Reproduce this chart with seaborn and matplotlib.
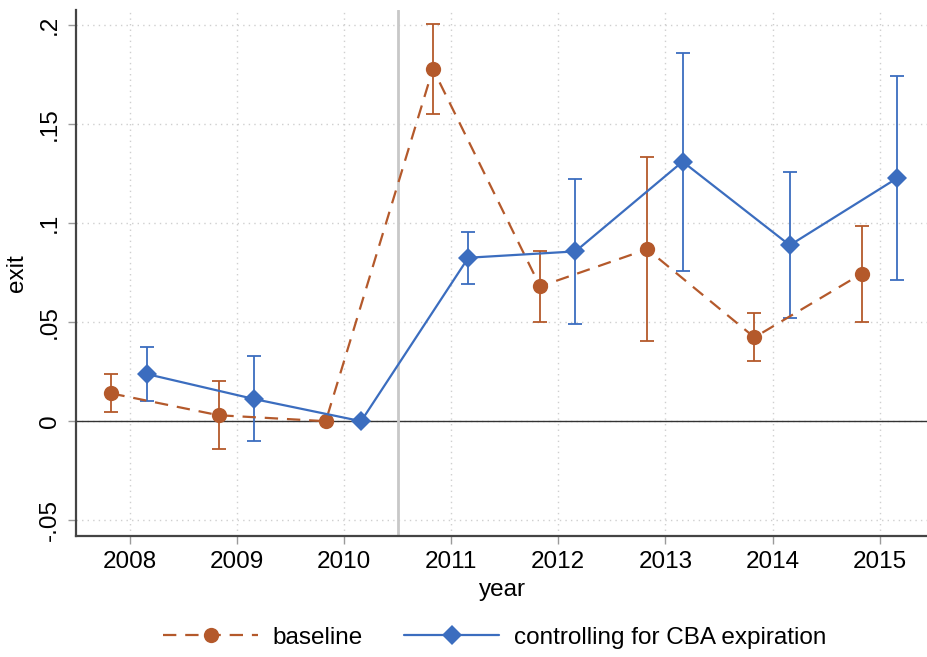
import numpy as np
import pandas as pd
import seaborn as sns
import matplotlib.pyplot as plt
from matplotlib.ticker import FixedLocator, FixedFormatter

# event-study style estimates
years = [2008, 2009, 2010, 2011, 2012, 2013, 2014, 2015]

base_est = [0.0140, 0.0030, 0.0000, 0.1778, 0.0680, 0.0868, 0.0423, 0.0744]
base_lo = [0.0046, -0.0138, np.nan, 0.1548, 0.0502, 0.0405, 0.0306, 0.0499]
base_hi = [0.0240, 0.0203, np.nan, 0.2004, 0.0858, 0.1333, 0.0547, 0.0983]

cba_est = [0.0238, 0.0112, 0.0000, 0.0825, 0.0857, 0.1310, 0.0888, 0.1226]
cba_lo = [0.0100, -0.0100, np.nan, 0.0694, 0.0492, 0.0758, 0.0523, 0.0712]
cba_hi = [0.0376, 0.0328, np.nan, 0.0957, 0.1222, 0.1860, 0.1258, 0.1741]

ytick_vals = [-0.05, 0, 0.05, 0.1, 0.15, 0.2]
ytick_labels = ["-.05", "0", ".05", ".1", ".15", ".2"]

orange = "#b4592b"
blue = "#3b6dbf"

sns.set_style("white")
plt.rcParams['font.family'] = ['Liberation Sans', 'DejaVu Sans']
plt.rcParams['text.color'] = 'black'
plt.rcParams['xtick.labelcolor'] = 'black'
plt.rcParams['ytick.labelcolor'] = 'black'
plt.rcParams['axes.labelcolor'] = 'black'

df = pd.DataFrame({"year": years,
                   "base": base_est, "base_lo": base_lo, "base_hi": base_hi,
                   "cba": cba_est, "cba_lo": cba_lo, "cba_hi": cba_hi})
df["xb"] = df["year"] - 0.17
df["xc"] = df["year"] + 0.16

fig = plt.figure(figsize=(9.28, 6.57), dpi=100)
ax = fig.add_axes([0.082, 0.184, 0.918, 0.801])

# reference lines
ax.axhline(0, color="#333333", lw=1.0, zorder=1)
ax.axvline(2010.5, color="#c8c8c8", lw=2.0, zorder=1)

# confidence intervals
ax.errorbar(df["xb"], df["base"],
            yerr=[df["base"] - df["base_lo"], df["base_hi"] - df["base"]],
            fmt="none", ecolor=orange, elinewidth=1.3, capsize=5, capthick=1.3, zorder=2)
ax.errorbar(df["xc"], df["cba"],
            yerr=[df["cba"] - df["cba_lo"], df["cba_hi"] - df["cba"]],
            fmt="none", ecolor=blue, elinewidth=1.3, capsize=5, capthick=1.3, zorder=2)

# point estimates
sns.lineplot(data=df, x="xb", y="base", ax=ax, color=orange, linestyle=(0, (6, 4)),
             lw=1.6, marker="o", markersize=11, markeredgewidth=0, zorder=3,
             label="baseline")
sns.lineplot(data=df, x="xc", y="cba", ax=ax, color=blue, lw=1.6,
             marker="D", markersize=10.5, markeredgewidth=0, zorder=3,
             label="controlling for CBA expiration")

ax.set_xlim(2007.5, 2015.45)
ax.set_ylim(-0.058, 0.2076)

ax.xaxis.set_major_locator(FixedLocator(years))
ax.set_xticklabels([str(y) for y in years], fontsize=17.5)
ax.yaxis.set_major_locator(FixedLocator(ytick_vals))
ax.yaxis.set_major_formatter(FixedFormatter(ytick_labels))
for lab in ax.get_yticklabels():
    lab.set_rotation(90)
    lab.set_va("center")
    lab.set_fontsize(17.5)

ax.tick_params(axis="both", which="major", direction="out", length=6, width=1,
               color="#9a9a9a", pad=5, bottom=True, left=True)

ax.grid(True, color="#cfcfcf", linestyle=(0, (1, 3)), lw=1.0)
ax.set_axisbelow(True)

for side in ["top", "right"]:
    ax.spines[side].set_visible(False)
for side in ["left", "bottom"]:
    ax.spines[side].set_color("#444444")
    ax.spines[side].set_linewidth(1.6)

ax.set_xlabel("year", fontsize=17.5, labelpad=4)
ax.set_ylabel("exit", fontsize=17.5, labelpad=8)

ax.get_legend().remove()
h, l = ax.get_legend_handles_labels()
fig.legend(h, l, loc="center", bbox_to_anchor=(0.533, 0.029), ncol=2, frameon=False,
           fontsize=17.5, handlelength=3.9, columnspacing=1.7, handletextpad=0.6)

fig.savefig("out.png", dpi=100)
